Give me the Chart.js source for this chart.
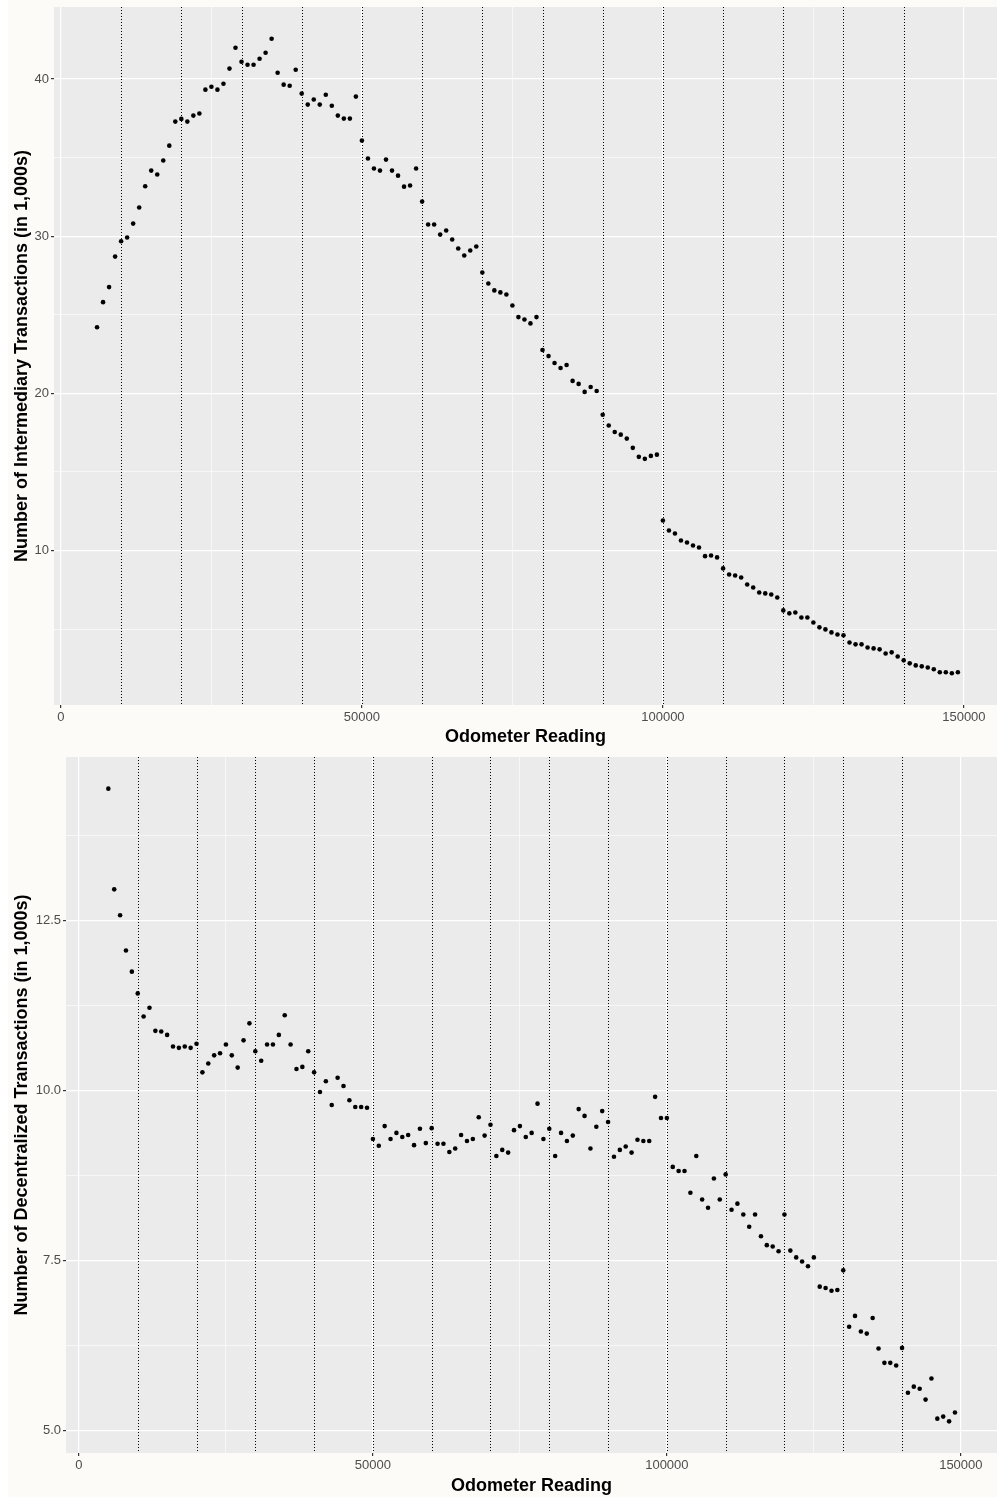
<!DOCTYPE html>
<html>
<head>
<meta charset="utf-8">
<script src="https://cdn.jsdelivr.net/npm/chart.js@4"></script>
<style>
  body { margin: 0; background: #ffffff; }
  #wrap { position: relative; width: 997px; height: 1497px; background: #fdfbf8; border-left: 8px solid #ffffff; box-sizing: border-box; }
  .box { position: absolute; left: -8px; width: 997px; }
</style>
</head>
<body>
<div id="wrap">
  <div class="box" style="top:0;height:752px"><canvas id="topChart"></canvas></div>
  <div class="box" style="top:752px;height:745px"><canvas id="bottomChart"></canvas></div>
</div>
<script>
// odometer readings, in thousands
const odoTopK = [6,7,8,9,10,11,12,13,14,15,16,17,18,19,20,21,22,23,24,25,26,27,28,29,30,
  31,32,33,34,35,36,37,38,39,40,41,42,43,44,45,46,47,48,49,50,51,52,53,54,55,56,57,58,59,60,
  61,62,63,64,65,66,67,68,69,70,71,72,73,74,75,76,77,78,79,80,81,82,83,84,85,86,87,88,89,90,
  91,92,93,94,95,96,97,98,99,100,101,102,103,104,105,106,107,108,109,110,111,112,113,114,115,
  116,117,118,119,120,121,122,123,124,125,126,127,128,129,130,131,132,133,134,135,136,137,138,
  139,140,141,142,143,144,145,146,147,148,149];

const intermediary = [24.2,25.8,26.76,28.7,29.68,29.91,30.8,31.82,33.18,34.17,33.92,34.81,35.76,
  37.29,37.46,37.29,37.67,37.8,39.32,39.51,39.32,39.7,40.66,41.99,41.1,40.91,40.91,41.29,41.67,
  42.56,40.4,39.64,39.57,40.59,39.07,38.37,38.69,38.37,39.0,38.3,37.67,37.48,37.48,38.88,36.08,
  34.94,34.3,34.17,34.87,34.17,33.85,33.15,33.22,34.3,32.2,30.74,30.74,30.1,30.36,29.79,29.21,
  28.77,29.09,29.34,27.69,26.99,26.55,26.42,26.29,25.59,24.85,24.7,24.45,24.85,22.76,22.37,
  21.93,21.61,21.8,20.79,20.6,20.09,20.4,20.15,18.64,17.95,17.54,17.37,17.12,16.53,15.96,15.83,
  16.02,16.1,11.91,11.27,11.08,10.64,10.51,10.32,10.19,9.64,9.68,9.56,8.86,8.47,8.41,8.28,7.84,
  7.65,7.33,7.27,7.2,7.01,6.19,6.0,6.06,5.74,5.74,5.42,5.11,4.98,4.79,4.66,4.6,4.15,4.03,4.03,
  3.83,3.77,3.71,3.45,3.52,3.26,3.01,2.82,2.69,2.63,2.56,2.44,2.25,2.25,2.19,2.25];

const odoBottomK = [5,6,7,8,9,10,11,12,13,14,15,16,17,18,19,20,21,22,23,24,25,26,27,28,29,30,
  31,32,33,34,35,36,37,38,39,40,41,42,43,44,45,46,47,48,49,50,51,52,53,54,55,56,57,58,59,60,
  61,62,63,64,65,66,67,68,69,70,71,72,73,74,75,76,77,78,79,80,81,82,83,84,85,86,87,88,89,90,
  91,92,93,94,95,96,97,98,99,100,101,102,103,104,105,106,107,108,109,110,111,112,113,114,115,
  116,117,118,119,120,121,122,123,124,125,126,127,128,129,130,131,132,133,134,135,136,137,138,
  139,140,141,142,143,144,145,146,147,148,149];

const decentralized = [14.44,12.96,12.58,12.06,11.75,11.43,11.09,11.22,10.88,10.87,10.82,10.65,
  10.63,10.65,10.63,10.69,10.27,10.4,10.52,10.55,10.68,10.52,10.34,10.74,10.99,10.58,10.44,10.68,
  10.68,10.82,11.11,10.68,10.32,10.35,10.58,10.27,9.98,10.14,9.79,10.19,10.07,9.86,9.76,9.76,9.75,
  9.29,9.19,9.48,9.29,9.38,9.32,9.35,9.2,9.44,9.23,9.45,9.22,9.22,9.1,9.15,9.35,9.26,9.29,9.61,
  9.34,9.5,9.04,9.13,9.09,9.42,9.48,9.32,9.38,9.81,9.29,9.44,9.04,9.38,9.26,9.34,9.73,9.63,9.15,
  9.47,9.7,9.54,9.03,9.13,9.18,9.09,9.28,9.26,9.26,9.91,9.6,9.6,8.88,8.82,8.82,8.5,9.04,8.4,8.28,
  8.71,8.4,8.77,8.25,8.34,8.18,8.0,8.18,7.86,7.73,7.71,7.64,8.18,7.65,7.55,7.49,7.42,7.55,7.12,
  7.1,7.06,7.07,7.36,6.53,6.69,6.46,6.43,6.66,6.21,6.0,6.0,5.96,6.22,5.56,5.65,5.62,5.46,5.77,
  5.18,5.21,5.14,5.27];

const xTicks = [0, 50000, 100000, 150000];
const yTicksTop = [10, 20, 30, 40];
const yTicksBottom = [5, 7.5, 10, 12.5];
const refLines = [10000,20000,30000,40000,50000,60000,70000,80000,90000,100000,110000,120000,130000,140000];

const FONT = "'Liberation Sans', Arial, sans-serif";

// majors plus the halfway minor lines, like ggplot
function withMinors(majors) {
  const step = majors[1] - majors[0];
  const out = [];
  majors.forEach(v => {
    out.push({ value: v - step / 2, minor: true });
    out.push({ value: v, minor: false });
  });
  out.push({ value: majors[majors.length - 1] + step / 2, minor: true });
  return out;
}

function noPad(s) {
  s.paddingTop = 0; s.paddingBottom = 0; s.paddingLeft = 0; s.paddingRight = 0;
}

const panelBg = {
  id: "panelBg",
  beforeDraw(chart) {
    const { ctx, chartArea: a } = chart;
    ctx.save();
    ctx.fillStyle = "#ebebeb";
    ctx.fillRect(a.left, a.top, a.right - a.left, a.bottom - a.top);
    ctx.restore();
  }
};

const vlines = {
  id: "vlines",
  beforeDatasetsDraw(chart) {
    const { ctx, chartArea: a, scales: { x } } = chart;
    ctx.save();
    ctx.strokeStyle = "#000000";
    ctx.lineWidth = 1;
    ctx.setLineDash([1, 2]);
    refLines.forEach(v => {
      const px = Math.round(x.getPixelForValue(v)) + 0.5;
      ctx.beginPath();
      ctx.moveTo(px, a.top);
      ctx.lineTo(px, a.bottom);
      ctx.stroke();
    });
    ctx.restore();
  }
};

function makeChart(id, xsK, ys, opt) {
  return new Chart(document.getElementById(id), {
    type: "scatter",
    data: {
      datasets: [{
        data: xsK.map((k, i) => ({ x: k * 1000, y: ys[i] })),
        pointRadius: 2.3,
        pointHoverRadius: 2.3,
        pointBackgroundColor: "#000000",
        pointBorderWidth: 0
      }]
    },
    options: {
      responsive: true,
      maintainAspectRatio: false,
      animation: false,
      events: [],
      layout: { autoPadding: false, padding: { top: opt.padTop, left: 0, right: 0, bottom: 0 } },
      plugins: { legend: { display: false }, tooltip: { enabled: false } },
      scales: {
        x: {
          type: "linear",
          min: opt.xMin,
          max: opt.xMax,
          afterBuildTicks: s => { s.ticks = withMinors(xTicks).filter(t => t.value >= opt.xMin && t.value <= opt.xMax); },
          afterFit: s => { s.height = opt.xHeight; noPad(s); },
          border: { display: false },
          grid: {
            color: "#ffffff",
            lineWidth: c => (c.tick && c.tick.minor ? 0.6 : 1.2),
            tickColor: c => (c.tick && c.tick.minor ? "rgba(0,0,0,0)" : "#333333"),
            tickLength: 3
          },
          ticks: {
            autoSkip: false,
            maxRotation: 0,
            padding: 2,
            color: "#4d4d4d",
            font: { family: FONT, size: 13 },
            callback: (v, i, t) => (t[i].minor ? "" : String(v))
          },
          title: {
            display: true,
            text: "Odometer Reading",
            color: "#000000",
            font: { family: FONT, size: 18, weight: "bold" },
            padding: { top: 0, bottom: opt.xTitlePad }
          }
        },
        y: {
          type: "linear",
          min: opt.yMin,
          max: opt.yMax,
          afterBuildTicks: s => { s.ticks = withMinors(opt.yTicks).filter(t => t.value >= opt.yMin && t.value <= opt.yMax); },
          afterFit: s => { s.width = opt.yWidth; noPad(s); },
          border: { display: false },
          grid: {
            color: "#ffffff",
            lineWidth: c => (c.tick && c.tick.minor ? 0.6 : 1.2),
            tickColor: c => (c.tick && c.tick.minor ? "rgba(0,0,0,0)" : "#333333"),
            tickLength: 3
          },
          ticks: {
            autoSkip: false,
            padding: 2,
            color: "#4d4d4d",
            font: { family: FONT, size: 13 },
            callback: (v, i, t) => (t[i].minor ? "" : opt.fmt(v))
          },
          title: {
            display: true,
            text: opt.yTitle,
            color: "#000000",
            font: { family: FONT, size: 18, weight: "bold" },
            padding: { top: opt.yTitlePad, bottom: 0 }
          }
        }
      }
    },
    plugins: [panelBg, vlines]
  });
}

makeChart("topChart", odoTopK, intermediary, {
  xMin: -1150, xMax: 155500,
  yMin: 0.17, yMax: 44.58,
  yTicks: yTicksTop,
  fmt: v => String(v),
  padTop: 7, xHeight: 47, yWidth: 54,
  xTitlePad: 4, yTitlePad: 11,
  yTitle: "Number of Intermediary Transactions (in 1,000s)"
});

makeChart("bottomChart", odoBottomK, decentralized, {
  xMin: -2200, xMax: 156150,
  yMin: 4.675, yMax: 14.905,
  yTicks: yTicksBottom,
  fmt: v => v.toFixed(1),
  padTop: 5, xHeight: 44, yWidth: 66,
  xTitlePad: 0, yTitlePad: 11,
  yTitle: "Number of Decentralized Transactions (in 1,000s)"
});
</script>
</body>
</html>
